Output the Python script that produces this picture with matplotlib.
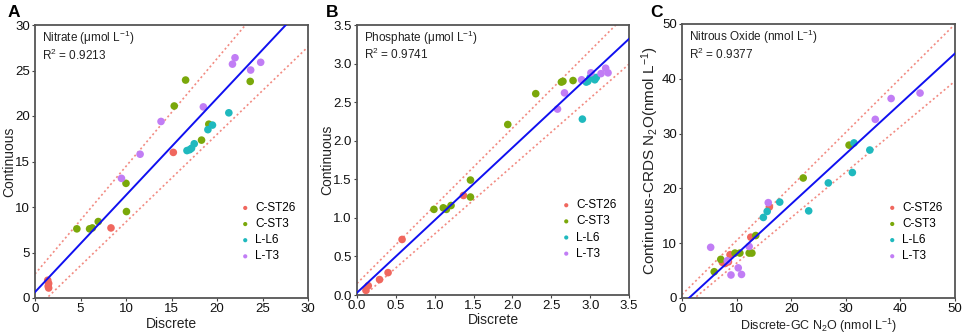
import matplotlib
matplotlib.use("Agg")
import matplotlib.pyplot as plt
import numpy as np

plt.rcParams['font.family'] = ['Liberation Sans', 'DejaVu Sans']
plt.rcParams['mathtext.fontset'] = 'custom'
plt.rcParams['mathtext.rm'] = 'Liberation Sans'
plt.rcParams['mathtext.it'] = 'Liberation Sans:italic'

groups = ['C-ST26', 'C-ST3', 'L-L6', 'L-T3']
colors = ['#F0675E', '#7AA80A', '#1FB9BE', '#C17DF5']

# ---- Panel A: Nitrate ----
a_x = {
    'C-ST26': [1.4, 1.5, 1.45, 1.5, 8.35, 15.2],
    'C-ST3': [4.6, 6.0, 6.3, 6.95, 10.05, 10.0, 15.3, 16.55, 18.3, 19.1, 23.65],
    'L-L6': [16.7, 17.0, 17.2, 17.5, 19.0, 19.5, 21.3],
    'L-T3': [9.5, 11.55, 13.85, 18.5, 21.7, 21.98, 23.7, 24.8],
}
a_y = {
    'C-ST26': [1.95, 1.6, 1.3, 1.1, 7.7, 16.0],
    'C-ST3': [7.6, 7.6, 7.7, 8.4, 9.5, 12.6, 21.1, 23.95, 17.35, 19.1, 23.8],
    'L-L6': [16.2, 16.3, 16.45, 16.95, 18.5, 19.0, 20.35],
    'L-T3': [13.15, 15.8, 19.4, 21.0, 25.7, 26.4, 25.05, 25.9],
}
a_fit = [1.065, 0.65]
a_upper = [1.183, 2.64]
a_lower = [0.962, -1.26]

# ---- Panel B: Phosphate ----
b_x = {
    'C-ST26': [0.115, 0.145, 0.29, 0.40, 0.58, 1.37],
    'C-ST3': [0.99, 1.11, 1.15, 1.21, 1.46, 1.46, 1.94, 2.30, 2.63, 2.65, 2.78],
    'L-L6': [2.90, 2.95, 2.97, 3.0, 3.04, 3.06, 3.08],
    'L-T3': [2.58, 2.67, 2.89, 3.01, 3.14, 3.20, 3.23],
}
b_y = {
    'C-ST26': [0.06, 0.12, 0.2, 0.29, 0.72, 1.29],
    'C-ST3': [1.11, 1.13, 1.11, 1.16, 1.49, 1.27, 2.21, 2.61, 2.76, 2.77, 2.78],
    'L-L6': [2.28, 2.76, 2.77, 2.82, 2.81, 2.79, 2.82],
    'L-T3': [2.41, 2.62, 2.79, 2.88, 2.87, 2.94, 2.88],
}
b_fit = [0.94, 0.03]
b_upper = [1.006, 0.15]
b_lower = [0.88, -0.088]

# ---- Panel C: Nitrous oxide ----
c_x = {
    'C-ST26': [7.4, 7.9, 8.5, 8.8, 12.6, 16.0],
    'C-ST3': [5.9, 7.1, 9.7, 10.6, 12.3, 12.8, 13.5, 22.2, 30.6],
    'L-L6': [14.9, 15.6, 17.9, 23.2, 26.8, 31.2, 31.5, 34.4],
    'L-T3': [5.25, 8.3, 8.97, 10.3, 10.9, 12.3, 15.8, 35.4, 38.3, 43.6],
}
c_y = {
    'C-ST26': [6.5, 6.3, 6.6, 7.9, 11.1, 16.6],
    'C-ST3': [4.8, 7.05, 8.2, 8.2, 8.2, 8.2, 11.4, 21.9, 27.9],
    'L-L6': [14.7, 15.8, 17.5, 15.9, 21.0, 22.9, 28.3, 27.0],
    'L-T3': [9.25, 6.8, 4.2, 5.5, 4.3, 9.4, 17.4, 32.6, 36.4, 37.4],
}
c_fit = [0.916, -1.17]
c_upper = [0.987, 0.62]
c_lower = [0.83, -1.93]

fig = plt.figure(figsize=(9.64, 3.33), dpi=100)

panels = [
    dict(pos=[35/964, 35/333, 273/964, 273/333], xs=a_x, ys=a_y, fit=a_fit, up=a_upper, lo=a_lower,
         lim=30, ticks=np.arange(0, 31, 5), fmt='{:.0f}', label='A', lx=8/964,
         title=r'Nitrate ($\mathregular{\mu}$mol L$^{-1}$)', r2=r'R$^2$ = 0.9213',
         xlabel='Discrete', ylabel='Continuous', xls=10, yls=10, ylx=-0.07),
    dict(pos=[357/964, 38/333, 272/964, 270/333], xs=b_x, ys=b_y, fit=b_fit, up=b_upper, lo=b_lower,
         lim=3.5, ticks=np.arange(0, 3.51, 0.5), fmt='{:.1f}', label='B', lx=326/964,
         title=r'Phosphate ($\mathregular{\mu}$mol L$^{-1}$)', r2=r'R$^2$ = 0.9741',
         xlabel='Discrete', ylabel='Continuous', xls=10, yls=10, ylx=-0.085),
    dict(pos=[682/964, 35/333, 273/964, 274/333], xs=c_x, ys=c_y, fit=c_fit, up=c_upper, lo=c_lower,
         lim=50, ticks=np.arange(0, 51, 10), fmt='{:.0f}', label='C', lx=650/964,
         title=r'Nitrous Oxide (nmol L$^{-1}$)', r2=r'R$^2$ = 0.9377',
         xlabel=r'Discrete-GC N$_2$O (nmol L$^{-1}$)', ylabel=r'Continuous-CRDS N$_2$O(nmol L$^{-1}$)',
         xls=9, yls=11, ylx=-0.078),
]

for p in panels:
    ax = fig.add_axes(p['pos'])
    lim = p['lim']
    xx = np.array([0, lim])
    ax.plot(xx, p['up'][0] * xx + p['up'][1], ls=(0, (1.2, 1.6)), color='#F28B82', lw=1.2, zorder=1)
    ax.plot(xx, p['lo'][0] * xx + p['lo'][1], ls=(0, (1.2, 1.6)), color='#F28B82', lw=1.2, zorder=1)
    for g, c in zip(groups, colors):
        ax.scatter(p['xs'][g], p['ys'][g], s=30, color=c, edgecolors='none', label=g, zorder=3)
    ax.plot(xx, p['fit'][0] * xx + p['fit'][1], color='#1010F0', lw=1.4, zorder=4)
    ax.set_xlim(0, lim)
    ax.set_ylim(0, lim)
    ax.set_xticks(p['ticks'])
    ax.set_yticks(p['ticks'])
    ax.set_xticklabels([p['fmt'].format(t) for t in p['ticks']])
    ax.set_yticklabels([p['fmt'].format(t) for t in p['ticks']])
    ax.tick_params(labelsize=9.5, length=2.5, width=0.8, color='#444444', pad=1.2, labelcolor='#111111')
    for s in ax.spines.values():
        s.set_color('#555555')
        s.set_linewidth(1.3)
    ax.set_xlabel(p['xlabel'], fontsize=p['xls'], color='#222222')
    ax.set_ylabel(p['ylabel'], fontsize=p['yls'], color='#222222')
    ax.xaxis.set_label_coords(0.5, -0.068)
    ax.yaxis.set_label_coords(p['ylx'], 0.5)
    ax.text(0.025, 0.985, p['title'], transform=ax.transAxes, fontsize=8.5, va='top', ha='left', color='#222222')
    ax.text(0.025, 0.918, p['r2'], transform=ax.transAxes, fontsize=8.5, va='top', ha='left', color='#222222')
    ax.legend(loc='lower right', bbox_to_anchor=(0.985, 0.10), frameon=False, fontsize=8.5,
              handletextpad=0.25, labelspacing=0.35, markerscale=0.55, borderpad=0.2, handlelength=1.2)
    fig.text(p['lx'], 0.985, p['label'], fontsize=12.5, fontweight='bold', va='top', ha='left')

fig.savefig('out.png', dpi=100)
